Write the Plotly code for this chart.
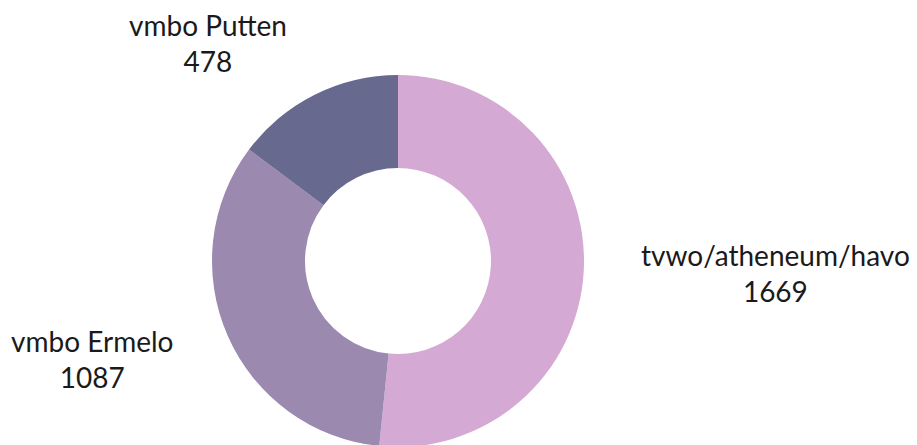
import math
import plotly.graph_objects as go

labels = ["tvwo/atheneum/havo", "vmbo Ermelo", "vmbo Putten"]
values = [1669, 1087, 478]
colors = ["#D4A9D3", "#9B89B0", "#676A8E"]

W, H = 917, 445
OFF = 8  # page body margin
cx, cy, R = 398 - OFF, 261 - OFF, 186  # pixel layout of the donut
FONT = 28

fig = go.Figure(go.Pie(
    labels=labels, values=values, hole=0.5, sort=False, direction="clockwise",
    rotation=0, marker=dict(colors=colors, line=dict(width=0)),
    textinfo="none", hoverinfo="label+value", showlegend=False,
    domain=dict(x=[(cx - R) / W, (cx + R) / W], y=[(H - cy - R) / H, (H - cy + R) / H]),
))

total = sum(values)
cum = 0
k = 1.31
for lab, val in zip(labels, values):
    mid = (cum + val / 2) / total * 2 * math.pi
    cum += val
    s, c = math.sin(mid), math.cos(mid)
    px = cx + R * k * s
    py = cy - R * k * c
    txt = f"{lab}<br>{val}"
    w_est = 0.57 * FONT * max(len(lab), len(str(val)))
    if s >= 0:
        anchor = "left"
        if px + w_est > W - 13:
            anchor = "right"
            px = W - 13
    else:
        anchor = "right"
    fig.add_annotation(x=px / W, y=1 - py / H, xref="paper", yref="paper",
                       text=txt, showarrow=False, xanchor=anchor, yanchor="middle",
                       align="center", font=dict(family="Lato", size=FONT, color="#1a1a1a"))

fig.update_layout(width=W, height=H, margin=dict(l=0, r=0, t=0, b=0),
                  paper_bgcolor="white", plot_bgcolor="white")
fig.write_html("out.html")
